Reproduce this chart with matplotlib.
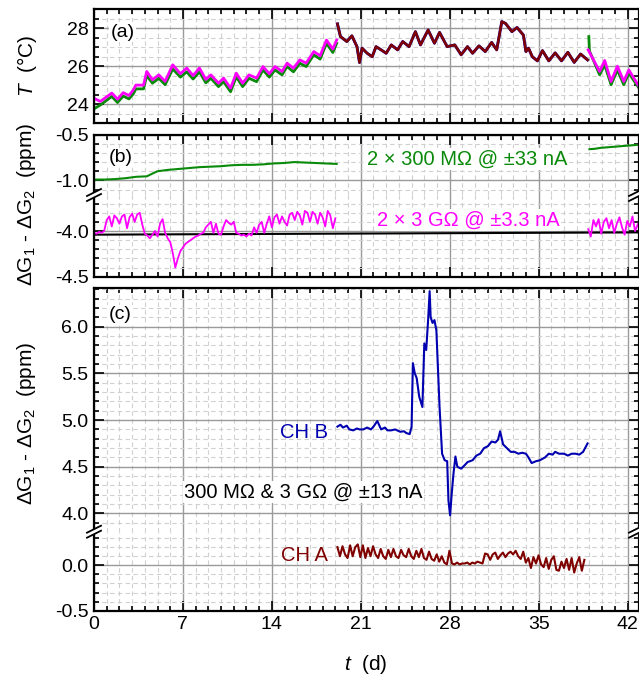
import numpy as np
import matplotlib
matplotlib.use("Agg")
import matplotlib.pyplot as plt
from matplotlib.ticker import MultipleLocator, FormatStrFormatter
from matplotlib.lines import Line2D
from matplotlib.patches import Polygon

plt.rcParams['font.family'] = ['Liberation Sans', 'DejaVu Sans']
plt.rcParams['mathtext.fontset'] = 'custom'
plt.rcParams['mathtext.rm'] = 'Liberation Sans'
plt.rcParams['mathtext.it'] = 'Liberation Sans:italic'
plt.rcParams['axes.unicode_minus'] = False

GREEN = '#0a8a0a'
MAGENTA = '#ff00ff'
DARKRED = '#800000'
BLUE = '#0000b0'

# ---- (a) temperature ----
t_a1 = [0.0, 0.5, 1.4, 1.85, 2.3, 2.75, 3.1, 3.3, 3.9, 4.15, 4.6, 5.1, 5.6, 6.2, 6.8,
        7.3, 7.8, 8.3, 8.8, 9.2, 9.8, 10.2, 10.75, 11.2, 11.7, 12.2, 12.8, 13.3, 13.8,
        14.25, 14.8, 15.2, 15.7, 16.2, 16.7, 17.3, 17.8, 18.3, 18.8, 19.1]
T_mag1 = [24.3, 24.14, 24.58, 24.26, 24.6, 24.45, 24.75, 25.0, 25.0, 25.72, 25.28, 25.54,
          25.2, 26.07, 25.6, 25.9, 25.5, 25.9, 25.3, 25.54, 25.1, 25.37, 24.84, 25.63,
          25.1, 25.54, 25.37, 25.98, 25.6, 25.98, 25.72, 26.16, 25.89, 26.33, 26.16,
          26.77, 26.55, 27.38, 26.9, 27.38]
T_grn1 = [23.75, 23.95, 24.4, 24.08, 24.42, 24.27, 24.55, 24.8, 24.8, 25.5, 25.1, 25.36,
          25.02, 25.85, 25.42, 25.7, 25.32, 25.7, 25.12, 25.36, 24.92, 25.18, 24.65, 25.44,
          24.92, 25.36, 25.18, 25.8, 25.42, 25.8, 25.54, 25.98, 25.7, 26.15, 25.98,
          26.6, 26.37, 27.2, 26.72, 27.2]

t_a2 = [19.16, 19.4, 19.9, 20.3, 20.7, 20.9, 21.1, 21.5, 21.9, 22.2, 22.6, 23.0, 23.4,
        23.9, 24.3, 24.8, 25.3, 25.7, 26.3, 26.8, 27.2, 27.8, 28.4, 28.9, 29.4, 29.8,
        30.3, 30.8, 31.3, 31.7, 32.1, 32.4, 32.9, 33.3, 33.8, 34.0, 34.2, 34.5, 34.9,
        35.3, 35.8, 36.3, 36.8, 37.3, 37.8, 38.3, 38.85]
T_mid = [28.23, 27.56, 27.3, 27.6, 27.03, 26.19, 26.95, 26.68, 26.5, 27.03, 26.86, 26.68,
         27.12, 26.86, 27.3, 27.03, 27.82, 27.12, 27.91, 27.21, 27.78, 27.03, 27.12, 26.6,
         27.03, 26.68, 27.07, 26.77, 27.25, 26.86, 28.35, 28.25, 27.82, 28.04, 27.64,
         26.77, 26.95, 26.5, 26.28, 26.82, 26.28, 26.7, 26.28, 26.73, 26.2, 26.64, 26.33]

t_a3_mag = [38.9, 39.8, 40.2, 40.7, 41.2, 41.7, 42.1, 42.9]
T_mag3 = [26.86, 25.72, 26.3, 25.19, 26.0, 25.19, 25.8, 24.93]
t_a3_grn = [38.95, 39.0, 39.8, 40.2, 40.7, 41.2, 41.7, 42.1, 42.9]
T_grn3 = [27.56, 26.8, 25.54, 26.07, 25.02, 25.8, 25.02, 25.63, 24.84]

# ---- (b) 2 x 300 MOhm and 2 x 3 GOhm ----
G_grn_b1 = [-0.99, -0.99, -0.985, -0.975, -0.96, -0.955, -0.90, -0.885, -0.875, -0.865,
            -0.855, -0.85, -0.845, -0.835, -0.83, -0.83, -0.825, -0.815, -0.81, -0.80,
            -0.805, -0.81, -0.815, -0.82]
G_grn_b2 = [-0.66, -0.655, -0.645, -0.64, -0.635, -0.63, -0.625, -0.62, -0.615, -0.61]
G_mag_b1 = [-4.02, -4.03, -4.01, -4.02, -4.00, -3.88, -3.84, -3.95, -3.83, -3.86,
            -3.92, -3.84, -3.82, -3.97, -3.85, -3.81, -3.90, -3.82, -3.80, -3.93,
            -4.03, -4.05, -4.08, -4.04, -4.00, -4.06, -3.92, -3.87, -4.02, -4.08,
            -4.12, -4.24, -4.40, -4.30, -4.22, -4.18, -4.14, -4.12, -4.10, -4.08,
            -4.06, -4.05, -4.03, -4.02, -3.96, -3.93, -3.90, -4.02, -3.92, -4.03,
            -4.04, -3.95, -3.88, -3.91, -3.93, -3.90, -4.02, -4.03, -4.05, -4.04,
            -4.06, -4.03, -4.05, -3.96, -4.02, -3.93, -3.90, -4.02, -3.92, -3.84,
            -3.96, -3.85, -3.82, -3.92, -3.84, -3.90, -3.94, -3.82, -3.80, -3.88,
            -3.79, -3.83, -3.93, -3.78, -3.80, -3.90, -3.79, -3.82, -3.92, -3.80,
            -3.85, -3.95, -3.78, -3.83, -3.97, -3.86]
G_mag_b2 = [-3.98, -4.06, -3.88, -3.95, -3.87, -4.03, -3.90, -3.86, -3.97, -3.88,
            -4.02, -3.92, -3.85, -3.96, -4.04, -3.89, -3.95, -3.84, -4.00, -3.93, -3.88]
t_ref_b = [0.0, 43.0]
G_ref_b = [-4.04, -4.015]

# ---- (c) 300 MOhm & 3 GOhm ----
t_chb = [19.16, 19.4, 19.6, 19.9, 20.1, 20.4, 20.7, 20.9, 21.2, 21.5, 21.8, 22.0, 22.3,
         22.6, 22.9, 23.1, 23.4, 23.7, 24.1, 24.4, 24.6, 24.85, 25.0, 25.1, 25.25, 25.4,
         25.6, 25.85, 26.0, 26.15, 26.3, 26.42, 26.5, 26.65, 26.8, 26.95, 27.2, 27.4,
         27.6, 27.8, 27.9, 28.03, 28.15, 28.3, 28.45, 28.6, 28.9, 29.2, 29.4, 29.8, 30.1,
         30.4, 30.7, 31.0, 31.3, 31.6, 31.8, 31.97, 32.2, 32.5, 32.8, 33.1, 33.4, 33.7,
         34.0, 34.2, 34.45, 34.8, 35.1, 35.5, 35.8, 36.1, 36.3, 36.6, 37.0, 37.3, 37.6,
         37.9, 38.2, 38.5, 38.85]
G_chb = [4.93, 4.95, 4.92, 4.94, 4.90, 4.89, 4.91, 4.90, 4.90, 4.92, 4.90, 4.93, 4.99,
         4.90, 4.92, 4.89, 4.89, 4.90, 4.875, 4.88, 4.86, 4.85, 4.93, 5.61, 5.50, 5.45,
         5.25, 5.14, 5.82, 5.75, 6.07, 6.38, 6.10, 6.04, 6.07, 5.96, 5.14, 4.64, 4.57,
         4.56, 4.14, 3.98, 4.20, 4.43, 4.61, 4.50, 4.48, 4.52, 4.55, 4.57, 4.62, 4.64,
         4.70, 4.72, 4.77, 4.76, 4.79, 4.88, 4.74, 4.70, 4.66, 4.66, 4.64, 4.65, 4.64,
         4.60, 4.54, 4.56, 4.57, 4.60, 4.64, 4.63, 4.66, 4.64, 4.64, 4.62, 4.64, 4.64,
         4.63, 4.66, 4.75]
G_cha = [0.20, 0.10, 0.21, 0.12, 0.08, 0.22, 0.10, 0.20, 0.23, 0.09,
         0.22, 0.08, 0.19, 0.10, 0.21, 0.12, 0.08, 0.18, 0.10, 0.07,
         0.17, 0.09, 0.18, 0.10, 0.08, 0.17, 0.11, 0.09, 0.18, 0.10,
         0.07, 0.16, 0.09, 0.18, 0.08, 0.06, 0.15, 0.07, 0.05, 0.12,
         0.04, 0.10, 0.03, 0.01, 0.16, 0.02, 0.01, 0.03, 0.01, 0.02,
         0.02, 0.03, 0.01, 0.03, 0.02, 0.04, 0.03, 0.02, 0.13, 0.12,
         0.06, 0.12, 0.14, 0.07, 0.11, 0.14, 0.09, 0.13, 0.15, 0.12,
         0.16, 0.10, 0.07, 0.15, 0.03, 0.08, -0.03, 0.09, 0.02, 0.11,
         0.01, -0.02, 0.08, -0.04, 0.06, 0.10, -0.05, -0.06, 0.04, -0.03,
         0.07, -0.05, 0.08, -0.08, 0.02, 0.09, -0.06, 0.06]

W, H = 639, 678
XMAX = 42.9
FS_TICK = 14
FS_NOTE = 14.5
FS_LABEL = 15


def frac(x0, y_top, y_bot):
    return [x0 / W, 1 - y_bot / H, 1 - x0 / W, (y_bot - y_top) / H]


def style(ax, ymaj, ymin, top=True, bottom=True, fmt='%.1f'):
    ax.set_xlim(0, XMAX)
    ax.xaxis.set_major_locator(MultipleLocator(7))
    ax.xaxis.set_minor_locator(MultipleLocator(1))
    ax.yaxis.set_major_locator(MultipleLocator(ymaj))
    ax.yaxis.set_minor_locator(MultipleLocator(ymin))
    ax.yaxis.set_major_formatter(FormatStrFormatter(fmt))
    ax.set_axisbelow(True)
    ax.grid(which='major', color='#9a9a9a', lw=1.0)
    ax.grid(which='minor', color='#d0d0d0', lw=0.8, ls=(0, (4, 3)))
    ax.tick_params(which='both', direction='in', left=True, right=True,
                   top=top, bottom=bottom, labelbottom=False, width=1.2,
                   labelsize=FS_TICK, pad=4)
    ax.tick_params(which='major', length=7)
    ax.tick_params(which='minor', length=3.5)
    for s in ax.spines.values():
        s.set_linewidth(1.6)
    if not top:
        ax.spines['top'].set_visible(False)
    if not bottom:
        ax.spines['bottom'].set_visible(False)


def break_mark(fig, xpx, ypx):
    # "//" on the spine where the axis is broken
    dx, dy, gap = 7, 3.5, 5
    pts = [(xpx - dx, ypx + dy + gap / 2), (xpx + dx, ypx - dy + gap / 2),
           (xpx + dx, ypx - dy - gap / 2), (xpx - dx, ypx + dy - gap / 2)]
    fig.add_artist(Polygon([(x / W, 1 - y / H) for x, y in pts], closed=True,
                           facecolor='white', edgecolor='none',
                           transform=fig.transFigure, zorder=10))
    for s in (gap / 2, -gap / 2):
        fig.add_artist(Line2D([(xpx - dx) / W, (xpx + dx) / W],
                              [1 - (ypx + dy + s) / H, 1 - (ypx - dy + s) / H],
                              color='black', lw=1.3, transform=fig.transFigure,
                              zorder=11))


def note(ax, x, y, s, color, ha='center', box=True, size=FS_NOTE):
    kw = dict(facecolor='white', edgecolor='none', pad=1) if box else None
    ax.text(x, y, s, color=color, fontsize=size, ha=ha, va='center', bbox=kw)


fig = plt.figure(figsize=(W / 100, H / 100), dpi=100)
X0 = 94

# (a)
ax_a = fig.add_axes(frac(X0, 9.3, 123))
style(ax_a, 2, 0.5, fmt='%d')
ax_a.set_ylim(23, 29)
ax_a.plot(t_a1, T_grn1, color=GREEN, lw=2.0)
ax_a.plot(t_a1, T_mag1, color=MAGENTA, lw=2.0)
ax_a.plot(t_a2, T_mid, color=BLUE, lw=2.1)
ax_a.plot(t_a2, T_mid, color=DARKRED, lw=1.8)
ax_a.plot(t_a3_grn, T_grn3, color=GREEN, lw=2.0)
ax_a.plot(t_a3_mag, T_mag3, color=MAGENTA, lw=2.0)
note(ax_a, 1.3, 27.8, '(a)', 'black', ha='left', size=FS_TICK)

# (b)
ax_b1 = fig.add_axes(frac(X0, 134.5, 195))
ax_b2 = fig.add_axes(frac(X0, 195, 276.7))
style(ax_b1, 0.5, 0.1, bottom=False)
style(ax_b2, 0.5, 0.1, top=False)
ax_b1.set_ylim(-1.158, -0.5)
ax_b2.set_ylim(-4.5, -3.606)
ax_b1.plot(np.linspace(0, 19.1, len(G_grn_b1)), G_grn_b1, color=GREEN, lw=1.5)
ax_b1.plot(np.linspace(39.0, 43.0, len(G_grn_b2)), G_grn_b2, color=GREEN, lw=1.5)
ax_b2.plot(t_ref_b, G_ref_b, color='black', lw=1.5)
ax_b2.plot(np.linspace(0, 19.0, len(G_mag_b1)), G_mag_b1, color=MAGENTA, lw=1.3)
ax_b2.plot(np.linspace(38.9, 43.0, len(G_mag_b2)), G_mag_b2, color=MAGENTA, lw=1.3)
note(ax_b1, 1.15, -0.75, '(b)', 'black', ha='left', size=FS_TICK)
note(ax_b1, 29.4, -0.77, '2 × 300 MΩ @ ±33 nA', GREEN)
note(ax_b2, 29.45, -3.88, '2 × 3 GΩ @ ±3.3 nA', MAGENTA)

# (c)
ax_c1 = fig.add_axes(frac(X0, 288, 531.7))
ax_c2 = fig.add_axes(frac(X0, 531.7, 610.7))
style(ax_c1, 0.5, 0.1, bottom=False)
style(ax_c2, 0.5, 0.1, top=False)
ax_c2.tick_params(labelbottom=True)
ax_c1.set_ylim(3.805, 6.414)
ax_c2.set_ylim(-0.5, 0.37)
ax_c1.plot(t_chb, G_chb, color=BLUE, lw=1.5)
ax_c2.plot(np.linspace(19.16, 38.6, len(G_cha)), G_cha, color=DARKRED, lw=1.5)
note(ax_c1, 1.15, 6.125, '(c)', 'black', ha='left', size=FS_TICK)
note(ax_c1, 18.4, 4.862, 'CH B', BLUE, ha='right', box=False)
note(ax_c1, 16.5, 4.23, '300 MΩ & 3 GΩ @ ±13 nA', 'black')
note(ax_c2, 18.4, 0.113, 'CH A', DARKRED, ha='right', box=False)
ax_c2.set_xticks([0, 7, 14, 21, 28, 35, 42])

for ypx in (195, 531.7):
    break_mark(fig, X0, ypx)
    break_mark(fig, W - 3, ypx)

fig.text(27 / W, 1 - 66 / H, r'$T$  (°C)', rotation=90, ha='center', va='center',
         fontsize=FS_LABEL)
fig.text(27 / W, 1 - 204 / H, r'ΔG$_1$ - ΔG$_2$  (ppm)', rotation=90, ha='center',
         va='center', fontsize=FS_LABEL)
fig.text(27 / W, 1 - 423 / H, r'ΔG$_1$ - ΔG$_2$  (ppm)', rotation=90, ha='center',
         va='center', fontsize=FS_LABEL)
fig.text(366 / W, 1 - 664 / H, r'$t$  (d)', ha='center', va='center', fontsize=FS_LABEL)

fig.savefig('out.png', dpi=100)
